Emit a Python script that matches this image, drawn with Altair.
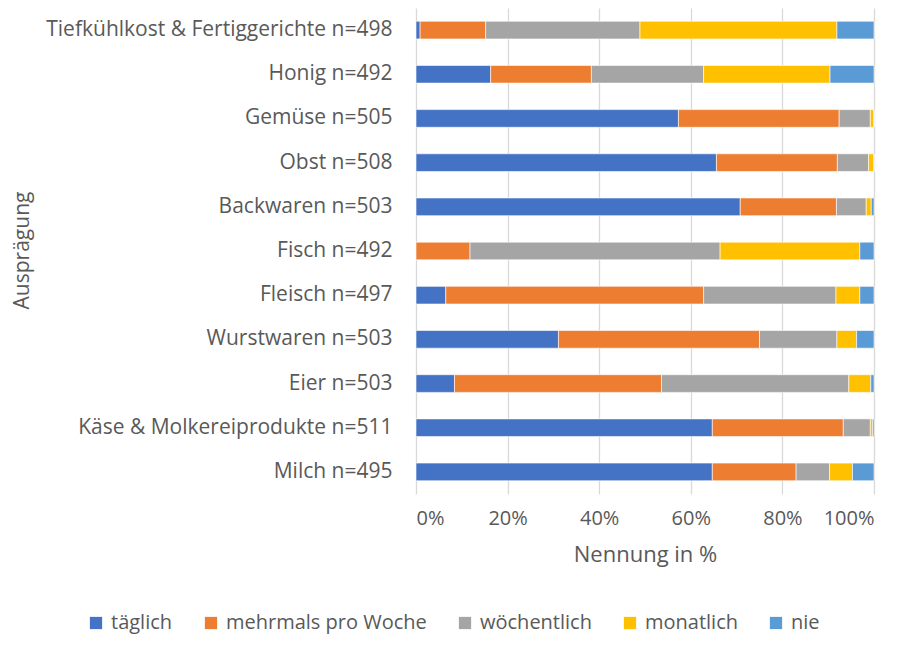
import altair as alt
import pandas as pd

categories = ["Tiefkühlkost & Fertiggerichte n=498", "Honig n=492", "Gemüse n=505", "Obst n=508",
              "Backwaren n=503", "Fisch n=492", "Fleisch n=497", "Wurstwaren n=503", "Eier n=503",
              "Käse & Molkereiprodukte n=511", "Milch n=495"]
series = ["täglich", "mehrmals pro Woche", "wöchentlich", "monatlich", "nie"]
taeglich = [0.9, 16.3, 57.3, 65.6, 70.8, 0.0, 6.5, 31.1, 8.4, 64.7, 64.7]
mehrmals = [14.3, 22.0, 35.1, 26.4, 21.0, 11.8, 56.3, 43.9, 45.2, 28.6, 18.3]
woechentlich = [33.7, 24.5, 6.8, 6.8, 6.5, 54.6, 28.9, 16.9, 40.9, 5.9, 7.3]
monatlich = [43.0, 27.6, 0.8, 1.2, 1.1, 30.5, 5.2, 4.3, 4.8, 0.5, 5.0]
nie = [8.1, 9.6, 0.0, 0.0, 0.6, 3.1, 3.1, 3.8, 0.7, 0.3, 4.7]
colors = ["#4472C4", "#ED7D31", "#A5A5A5", "#FFC000", "#5B9BD5"]

rows = []
for s_i, (s, vals) in enumerate(zip(series, [taeglich, mehrmals, woechentlich, monatlich, nie])):
    for c, v in zip(categories, vals):
        rows.append({"Kategorie": c, "Serie": s, "Wert": v, "ord": s_i})
df = pd.DataFrame(rows)

font = "Open Sans"
txt = "#595959"
chart = alt.Chart(df).mark_bar(stroke="white", strokeWidth=0.6).encode(
    y=alt.Y("Kategorie:N", sort=categories, title="Ausprägung",
            scale=alt.Scale(paddingInner=0.6, paddingOuter=0.3),
            axis=alt.Axis(domain=False, ticks=False, labelPadding=24, labelFontSize=21,
                          labelColor=txt, titleFontSize=21, titleColor=txt,
                          titleFontWeight="normal", titleX=-394, titleY=242, titleAngle=270,
                          titleBaseline="middle", titleAlign="center",
                          labelFont=font, titleFont=font, labelLimit=500)),
    x=alt.X("Wert:Q", stack="normalize", title="Nennung in %",
            scale=alt.Scale(domain=[0, 1]),
            axis=alt.Axis(format="%", values=[0, 0.2, 0.4, 0.6, 0.8, 1.0], domain=False, ticks=False,
                          grid=True, gridColor="#d9d9d9", gridWidth=1.3, labelPadding=14,
                          labelFontSize=20, labelColor=txt, titleFontSize=22,
                          titleColor=txt, titleFontWeight="normal", titlePadding=16,
                          labelFont=font, titleFont=font)),
    color=alt.Color("Serie:N", sort=series, scale=alt.Scale(domain=series, range=colors),
                    legend=alt.Legend(title=None, orient="none", direction="horizontal",
                                      legendX=-330, legendY=605, symbolType="square",
                                      symbolSize=150, symbolStrokeWidth=0, labelFontSize=20,
                                      labelColor=txt, labelFont=font, columnPadding=28,
                                      labelOffset=5, labelLimit=400)),
    order=alt.Order("ord:Q"),
).properties(
    width=458, height=486,
    padding={"left": 408, "top": 0, "right": 22, "bottom": 146},
    autosize=alt.AutoSizeParams(type="none"),
).configure_view(stroke=None)

chart.save("out.html", embed_options={"renderer": "svg", "actions": False})
